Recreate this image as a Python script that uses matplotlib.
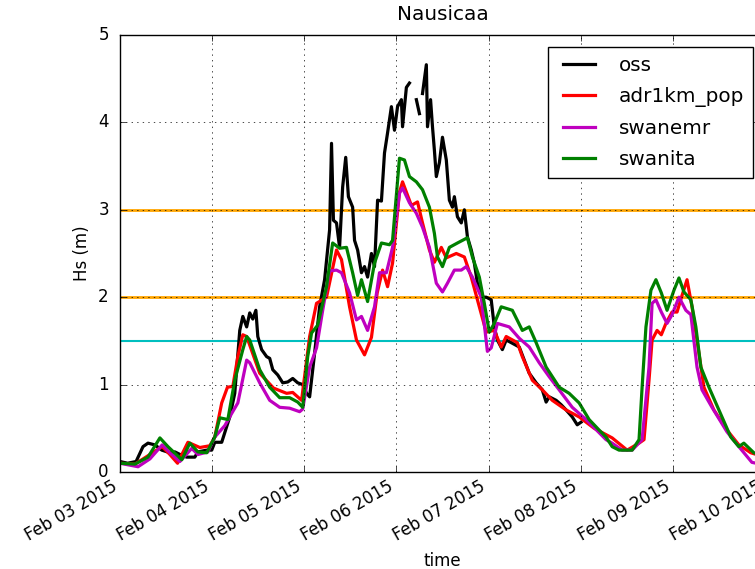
import datetime as dt

import numpy as np
import matplotlib
matplotlib.use("Agg")
import matplotlib.pyplot as plt
import matplotlib.dates as mdates

# ---------- data (hours since Feb 03 2015 00:00, Hs in m) ----------
START = dt.datetime(2015, 2, 3)

oss_h = [0, 2, 4.2, 6, 7.3, 9.1, 10.9, 13, 14.3, 16.1, 17.4, 19.5, 20.3, 22.6, 23.9,
         24.7, 26.5, 27.8, 28.6, 29.9, 31.2, 32, 33, 33.8, 34.6, 35.4, 35.9, 36.9,
         38.2, 39, 39.8, 41.1, 42.4, 43.7, 45, 46.3, 47.6, 48.6, 49.4, 50.7, 52, 53.3,
         54.6, 55.1, 55.6, 56.4, 57.2, 58, 58.8, 59.5, 60.6, 61.1, 61.9, 62.9, 63.7,
         64.5, 65.5, 66.3, 67.1, 68.1, 68.9, 69.7, 70.7, 71.5, 72.3, 73.3, 73.6, 74.6,
         75.4, 76, 77.2, 78, 78.5, 78.8, 79.8, 80.1, 80.9, 81.4, 81.9, 82.4, 83.2, 84,
         85, 85.8, 86.6, 87.1, 87.9, 88.9, 89.7, 90.5, 91.5, 92.3, 93.1, 94.4, 95.4,
         96.7, 97.5, 98.3, 99.6, 100.6, 101.9, 104, 105.3, 106.6, 108.4, 110, 111,
         111.8, 113.6, 114.9, 116.2, 117.8, 119.1, 120.1]
oss_hs = [0.12, 0.1, 0.12, 0.29, 0.33, 0.31, 0.25, 0.22, 0.23, 0.19, 0.17, 0.17, 0.23,
          0.25, 0.25, 0.34, 0.34, 0.52, 0.63, 0.9, 1.62, 1.78, 1.66, 1.82, 1.75, 1.85,
          1.55, 1.4, 1.32, 1.3, 1.17, 1.11, 1.02, 1.03, 1.07, 1.02, 1.0, 0.9, 0.86,
          1.36, 1.89, 2.2, 2.77, 3.76, 2.88, 2.85, 2.57, 3.26, 3.6, 3.15, 3.03, 2.65,
          2.54, 2.28, 2.35, 2.23, 2.5, 2.35, 3.11, 3.1, 3.65, 3.88, 4.18, 3.91, 4.18,
          4.26, 3.95, 4.4, 4.45, np.nan, 4.26, 4.1, np.nan, 4.33, 4.66, 3.95, 4.26,
          3.95, 3.68, 3.38, 3.54, 3.83, 3.57, 3.11, 3.03, 3.15, 2.92, 2.85, 3.0, 2.69,
          2.54, 2.39, 2.16, 2.0, 2.0, 1.97, 1.66, 1.51, 1.4, 1.51, 1.48, 1.43, 1.28,
          1.13, 1.02, 0.94, 0.8, 0.86, 0.82, 0.77, 0.71, 0.63, 0.54, 0.57]

adr_h = [0, 3.9, 7.8, 11, 13, 15, 17.7, 20.8, 23.4, 24.7, 26.5, 28, 29.4, 30.7, 32, 33,
         36.4, 40, 43.4, 45, 47.3, 49.4, 51.2, 53.8, 56.4, 57.7, 59.8, 61.6, 63.7,
         65.5, 67, 68.4, 69.7, 71, 72.8, 73.6, 75.9, 77.5, 78.8, 80.6, 81.9, 83.7, 85,
         87.6, 89.7, 91.5, 93.6, 95.4, 97.5, 99.3, 100.6, 103.5, 104.8, 107.4, 110,
         112.6, 116.2, 119.6, 123.5, 128.2, 132.1, 135.2, 136.5, 137.8, 138.6, 139.9,
         141, 142.2, 143.8, 145.1, 146.4, 147.7, 149, 150.8, 152.1, 154.7, 158.1,
         161.2, 164.3, 168]
adr_hs = [0.1, 0.09, 0.2, 0.29, 0.2, 0.1, 0.34, 0.28, 0.3, 0.4, 0.79, 0.97, 0.98, 1.32,
          1.57, 1.55, 1.13, 0.96, 0.9, 0.91, 0.82, 1.55, 1.93, 2.0, 2.54, 2.43, 1.89,
          1.51, 1.34, 1.54, 2.05, 2.31, 2.12, 2.39, 3.2, 3.32, 3.05, 3.09, 2.85, 2.54,
          2.4, 2.57, 2.45, 2.5, 2.46, 2.23, 1.89, 1.6, 1.62, 1.43, 1.55, 1.48, 1.32,
          1.05, 0.94, 0.82, 0.71, 0.63, 0.5, 0.39, 0.25, 0.33, 0.37, 1.05, 1.51, 1.62,
          1.57, 1.7, 1.83, 1.83, 2.02, 2.2, 1.89, 1.36, 0.97, 0.71, 0.48, 0.31, 0.22,
          0.17]

emr_h = [0, 4.7, 7.8, 11, 13, 15.6, 18.7, 20.3, 22.9, 24.7, 27.3, 29.1, 30.7, 33, 33.8,
         36.4, 39, 41.6, 44.2, 46.8, 47.6, 49.4, 51.2, 52.8, 54.6, 56.4, 57.7, 59.8,
         61.6, 62.9, 64.5, 66.3, 67.6, 69.4, 71, 72.8, 73.6, 75.4, 77.2, 78.8, 80.6,
         82.4, 84, 85.3, 87.1, 88.9, 90.2, 91.8, 94.1, 95.7, 96.7, 98.3, 101.4, 104,
         106.6, 109.2, 111.8, 114.4, 117.8, 121.4, 124.8, 126.6, 128.2, 130.8, 133.4,
         136, 137.8, 138.6, 139.6, 141, 142.5, 143.8, 145.6, 147.4, 148.7, 150.3,
         151.6, 154.2, 158.1, 161.2, 164.6, 168]
emr_hs = [0.1, 0.06, 0.15, 0.31, 0.22, 0.12, 0.27, 0.2, 0.23, 0.4, 0.53, 0.67, 0.79,
          1.28, 1.25, 1.02, 0.82, 0.74, 0.73, 0.69, 0.72, 1.2, 1.42, 1.85, 2.3, 2.31,
          2.28, 2.05, 1.74, 1.78, 1.62, 1.89, 2.28, 2.28, 2.57, 3.19, 3.25, 3.08, 2.96,
          2.8, 2.57, 2.16, 2.06, 2.16, 2.31, 2.31, 2.35, 2.23, 2.0, 1.38, 1.42, 1.7,
          1.66, 1.53, 1.43, 1.25, 1.09, 0.94, 0.74, 0.6, 0.45, 0.37, 0.33, 0.25, 0.25,
          0.37, 1.2, 1.93, 1.97, 1.83, 1.7, 1.8, 2.0, 1.85, 1.8, 1.2, 0.94, 0.74, 0.46,
          0.29, 0.11, 0.08]

ita_h = [0, 3.9, 7.3, 10.4, 12.5, 16.1, 18.2, 20.3, 22.6, 24.7, 26, 28.1, 29.9, 32, 33,
         33.8, 36.4, 39, 41.6, 44.2, 46.3, 47.6, 48.9, 49.9, 51.5, 53.8, 55.4, 57.2,
         59, 60.6, 61.9, 62.9, 64.5, 66.3, 68.1, 70.2, 71, 72.8, 74.1, 75.4, 77.2,
         78.8, 80.6, 81.9, 82.7, 84, 85.8, 87.9, 89.2, 90.5, 91.8, 93.6, 94.9, 96.2,
         97.5, 99.3, 102.2, 104.8, 106.6, 108.4, 111, 114.4, 117, 119.6, 122.2, 124.8,
         126.6, 128.2, 130, 133.4, 135.2, 136, 137, 138.3, 139.6, 141, 142.5, 144.3,
         145.6, 146.9, 148.7, 150, 151.3, 153.4, 156, 159.1, 161.2, 162.5, 165.1, 168]
ita_hs = [0.1, 0.09, 0.17, 0.39, 0.29, 0.14, 0.33, 0.23, 0.22, 0.4, 0.62, 0.6, 1.05,
          1.4, 1.55, 1.51, 1.17, 0.97, 0.85, 0.85, 0.8, 0.74, 1.32, 1.59, 1.68, 2.12,
          2.62, 2.56, 2.57, 2.28, 2.02, 2.2, 1.95, 2.39, 2.62, 2.6, 2.65, 3.59, 3.57,
          3.38, 3.32, 3.23, 3.03, 2.73, 2.46, 2.35, 2.57, 2.62, 2.65, 2.68, 2.46, 2.23,
          1.93, 1.6, 1.7, 1.89, 1.85, 1.62, 1.66, 1.48, 1.2, 0.97, 0.9, 0.79, 0.6, 0.48,
          0.4, 0.29, 0.25, 0.25, 0.37, 0.97, 1.66, 2.08, 2.2, 2.05, 1.85, 2.08, 2.22,
          2.06, 1.97, 1.66, 1.2, 0.97, 0.71, 0.4, 0.29, 0.33, 0.22, 0.18]

thresholds = [3, 2]
alert = 1.5


def to_dates(hours):
    return [START + dt.timedelta(hours=float(h)) for h in hours]


# ---------- plot ----------
plt.style.use('classic')
fig = plt.figure(figsize=(7.55, 5.69), dpi=100, facecolor='white')
ax = fig.add_axes([0.1589, 0.1705, 0.8543, 0.768])

for t in thresholds:
    ax.axhline(t, color='orange', linewidth=2)
ax.axhline(alert, color='c', linewidth=1.5)

ax.plot(to_dates(oss_h), oss_hs, color='k', linewidth=2.3, label='oss')
ax.plot(to_dates(adr_h), adr_hs, color='r', linewidth=2.3, label='adr1km_pop')
ax.plot(to_dates(emr_h), emr_hs, color='m', linewidth=2.3, label='swanemr')
ax.plot(to_dates(ita_h), ita_hs, color='g', linewidth=2.3, label='swanita')

ax.set_xlim(START, START + dt.timedelta(days=7))
ax.set_ylim(0, 5)
ax.xaxis.set_major_locator(mdates.DayLocator())
ax.xaxis.set_major_formatter(mdates.DateFormatter('%b %d %Y'))
for lab in ax.get_xticklabels():
    lab.set_rotation(30)
    lab.set_ha('right')
ax.tick_params(axis='y', pad=8)

ax.grid(True)
ax.set_title('Nausicaa', pad=11)
ax.set_ylabel('Hs (m)')
ax.set_xlabel('time')
ax.legend(loc='upper right', handlelength=2.2, labelspacing=0.6,
          handletextpad=0.9, borderpad=0.45, borderaxespad=0.6)

fig.savefig('out.png', dpi=100, facecolor='white')
